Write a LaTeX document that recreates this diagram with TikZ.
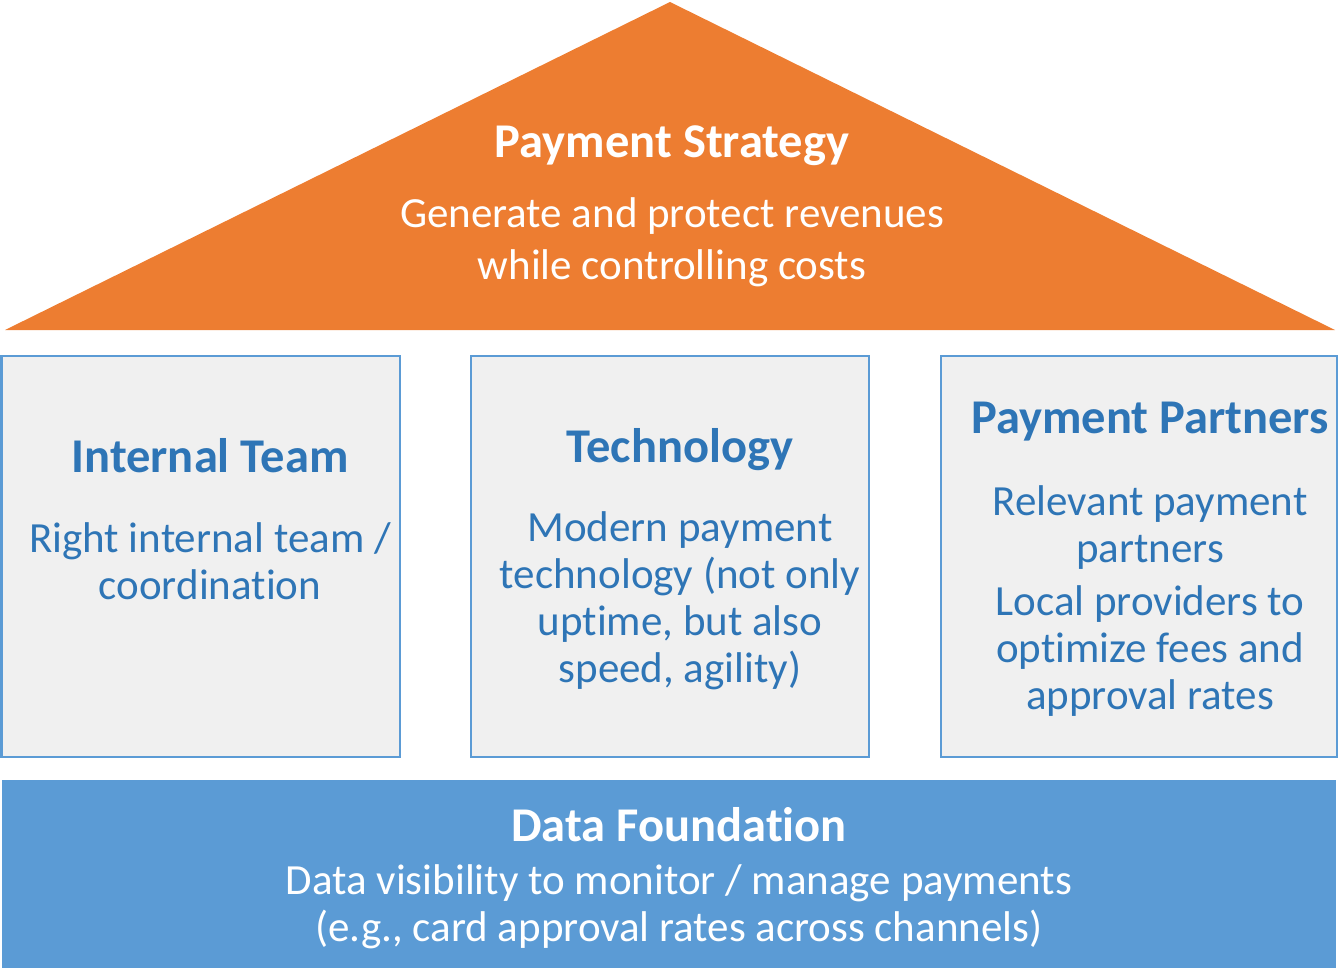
\documentclass[tikz,border=0pt]{standalone}
\usepackage{fontspec}
\setmainfont[Ligatures=NoCommon]{Carlito}
\definecolor{roof}{HTML}{ED7D31}
\definecolor{pillarline}{HTML}{5B9BD5}
\definecolor{pillarfill}{HTML}{F0F0F0}
\definecolor{basefill}{HTML}{5B9BD5}
\definecolor{pillartext}{HTML}{2E75B6}
\tikzset{
  pillar/.style={draw=pillarline, line width=2.5pt, fill=pillarfill},
  head/.style={font=\fontsize{48.5}{56}\selectfont\bfseries, inner sep=0pt, anchor=center},
  body/.style={font=\fontsize{43}{47}\selectfont, inner sep=0pt, align=center, anchor=center},
}
\begin{document}
\begin{tikzpicture}[x=1pt,y=-1pt]
  \useasboundingbox (0,0) rectangle (1338,971);
  % roof
  \coordinate (apex) at (670,2);
  \coordinate (eaveL) at (5,330);
  \coordinate (eaveR) at (1335,330);
  \fill[roof] (apex) -- (eaveR) -- (eaveL) -- cycle;
  \node[head, text=white] (roofhead) at (672,146) {Payment Strategy};
  \node[body, text=white, font=\fontsize{43}{52}\selectfont] (roofbody) at (672,242)
    {Generate and protect revenues\\while controlling costs};
  % pillars
  \draw[pillar] (1.25,356) rectangle (400,757);
  \draw[pillar] (471,356) rectangle (869,757);
  \draw[pillar] (941,356) rectangle (1336.75,757);
  \node[head, text=pillartext] (teamhead) at (210,456) {Internal Team};
  \node[body, text=pillartext] (teambody) at (210,561)
    {Right internal team /\\coordination};
  \node[head, text=pillartext] (techhead) at (680,450) {Technology};
  \node[body, text=pillartext] (techbody) at (680,601)
    {Modern payment\\technology (not only\\uptime, but also\\speed, agility)};
  \node[head, text=pillartext] (partnerhead) at (1150,422) {Payment Partners};
  \node[body, text=pillartext] (partnerbody) at (1150,601)
    {Relevant payment\\partners\\[6pt]Local providers to\\optimize fees and\\approval rates};
  % foundation
  \fill[basefill] (2,780) rectangle (1336,968);
  \node[head, text=white] (basehead) at (679,825) {Data Foundation};
  \node[body, text=white] (basebody) at (679,907)
    {Data visibility to monitor / manage payments\\(e.g., card approval rates across channels)};
\end{tikzpicture}
\end{document}
